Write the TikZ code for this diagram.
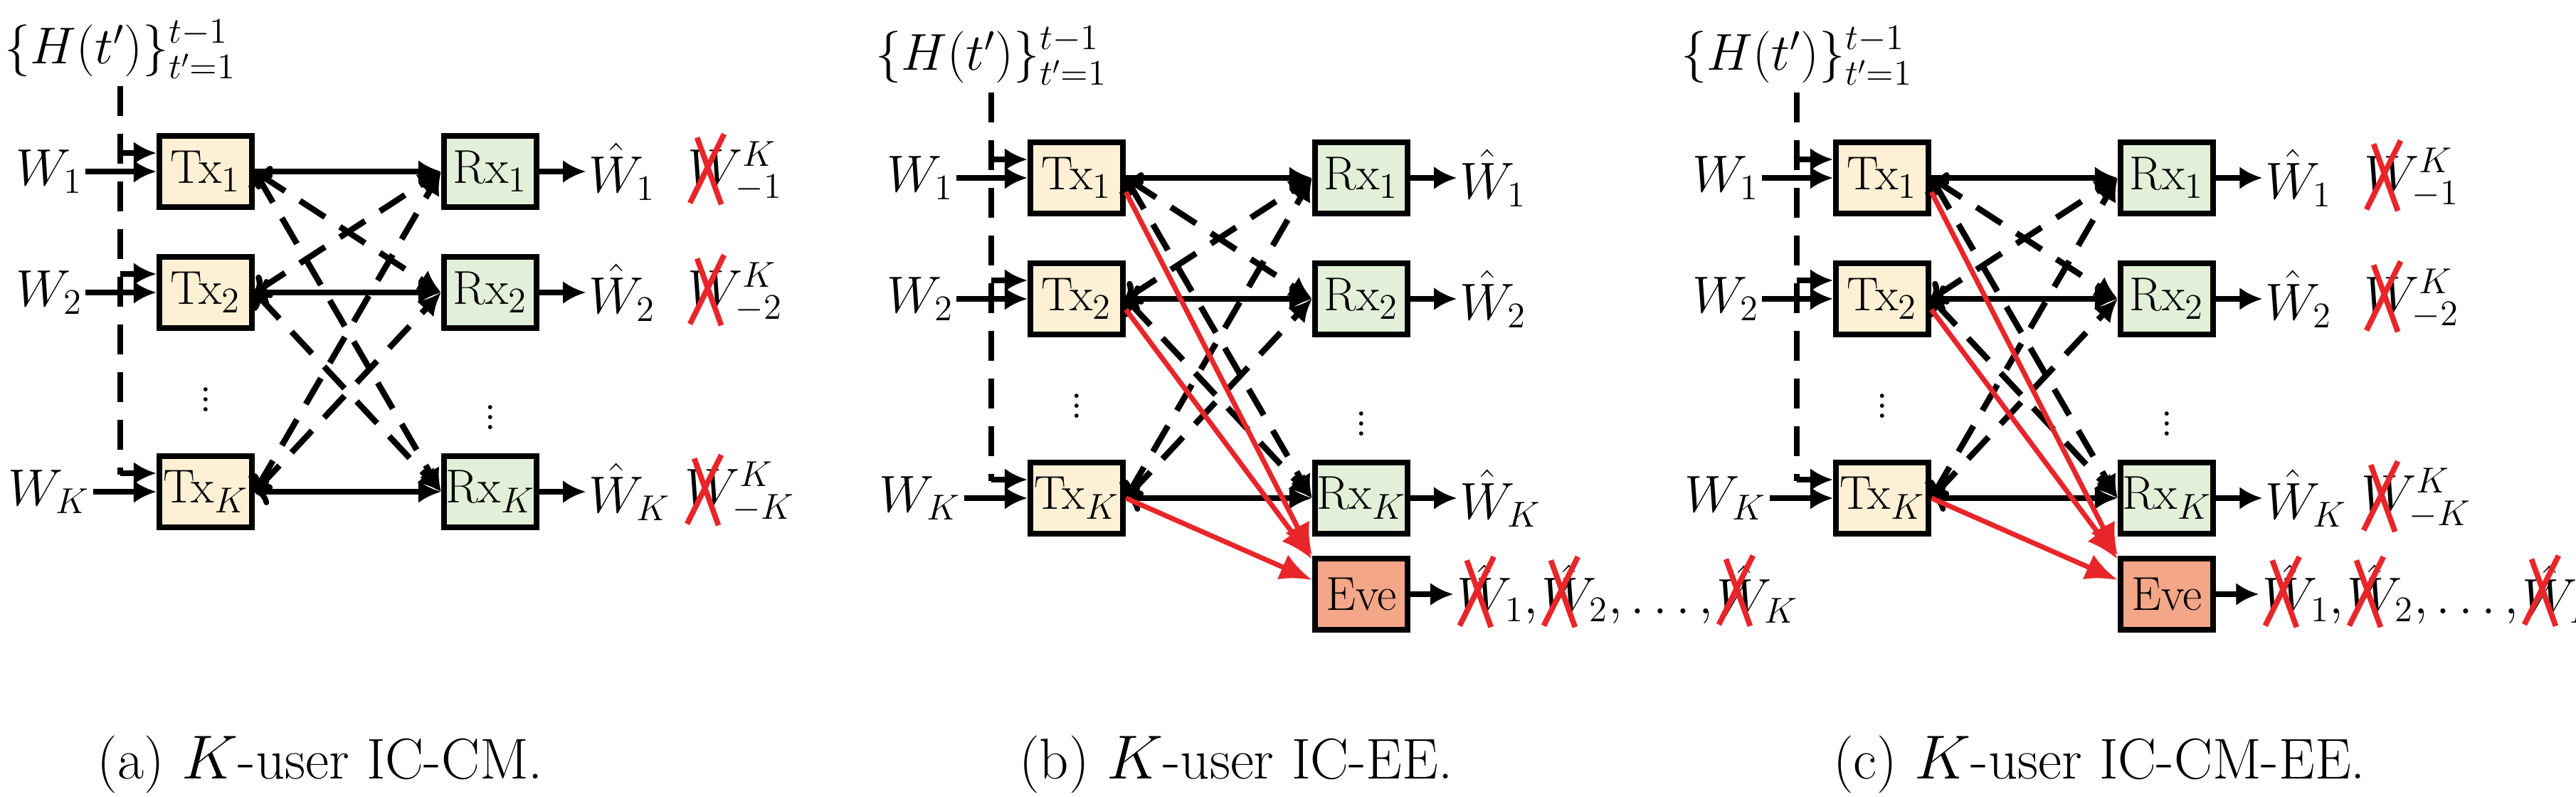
\documentclass[tikz,border=0pt]{standalone}
\usepackage{amsmath}
\usetikzlibrary{arrows.meta,calc}
\definecolor{txfill}{HTML}{FEF0D5}
\definecolor{rxfill}{HTML}{E2F0D9}
\definecolor{evefill}{HTML}{F4A688}
\definecolor{xred}{HTML}{E8262A}
\tikzset{
  box/.style={draw,line width=2.4pt,minimum width=1.3cm,minimum height=1.0cm,inner sep=0pt,font=\fontsize{19}{21}\selectfont},
  tx/.style={box,fill=txfill},
  rx/.style={box,fill=rxfill},
  eve/.style={box,fill=evefill},
  lab/.style={font=\fontsize{20}{22}\selectfont,inner sep=1pt},
  sol/.style={line width=2.2pt,-{Latex[length=0.32cm,width=0.32cm]}},
  dsh/.style={line width=2.4pt,dash pattern=on 0.42cm off 0.25cm,{To[length=0.2cm,width=0.38cm]}-{Latex[length=0.32cm,width=0.32cm]}},
  redarr/.style={line width=2pt,xred,-{Latex[length=0.45cm,width=0.38cm]}},
  xmark/.style={line width=2.2pt,xred}
}
\newcommand\crossW[1]{%
  \draw[xmark] ($(#1.south west)+(0.04,-0.02)$) -- ($(#1.south west)+(0.52,0.95)$);
  \draw[xmark] ($(#1.south west)+(0.14,0.9)$) -- ($(#1.south west)+(0.48,-0.04)$);}
\newcommand\panel[4]{% prefix, xshift, yshift, eve(1/0)
\begin{scope}[xshift=#2cm,yshift=#3cm]
  \node[lab] (#1H) at (0.0,1.72) {$\{H(t')\}_{t'=1}^{t-1}$};
  \node[tx] (#1t1) at (1.2,0) {Tx$_1$};
  \node[tx] (#1t2) at (1.2,-1.7) {Tx$_2$};
  \node[tx] (#1tK) at (1.2,-4.5) {Tx$_K$};
  \node[rx] (#1r1) at (5.2,0) {Rx$_1$};
  \node[rx] (#1r2) at (5.2,-1.7) {Rx$_2$};
  \node[rx] (#1rK) at (5.2,-4.5) {Rx$_K$};
  \node[lab] at (1.2,-3.1) {$\vdots$};
  \node[lab] at (5.2,-3.35) {$\vdots$};
  \node[lab] (#1w1) at (-1.0,0) {$W_1$};
  \node[lab] (#1w2) at (-1.0,-1.7) {$W_2$};
  \node[lab] (#1wK) at (-1.0,-4.5) {$W_K$};
  \coordinate (#1dt) at (0,1.2);
  \coordinate (#1dK) at (0,-4.26);
  \draw[line width=2.4pt,dash pattern=on 0.42cm off 0.25cm] (#1dt) -- (#1dK);
  \foreach \r/\y in {1/0,2/-1.7,K/-4.5}{
    \draw[sol] (0,\y+0.26) -- (#1t\r.west|-0,\y+0.26);
    \draw[sol] (#1w\r.east) -- (#1t\r.west);
    \draw[sol] (#1r\r.east) -- ++(0.65,0) coordinate (#1o\r);
  }
  \draw[sol] (#1t1.east) -- (#1r1.west);
  \draw[sol,{To[length=0.2cm,width=0.38cm]}-{Latex[length=0.32cm,width=0.32cm]}] (#1t2.east) -- (#1r2.west);
  \draw[sol,{To[length=0.2cm,width=0.38cm]}-{Latex[length=0.32cm,width=0.32cm]}] (#1tK.east) -- (#1rK.west);
  \draw[dsh] (#1t1.east) -- (#1r2.west);
  \draw[dsh] (#1t1.east) -- (#1rK.west);
  \draw[dsh] (#1t2.east) -- (#1r1.west);
  \draw[dsh] (#1t2.east) -- (#1rK.west);
  \draw[dsh] (#1tK.east) -- (#1r1.west);
  \draw[dsh] (#1tK.east) -- (#1r2.west);
  \node[lab,anchor=west] (#1h1) at (#1o1) {$\hat W_1$};
  \node[lab,anchor=west] (#1h2) at (#1o2) {$\hat W_2$};
  \node[lab,anchor=west] (#1hK) at (#1oK) {$\hat W_K$};
  \ifnum#4=1
    \node[eve] (#1e) at (5.2,-5.85) {Eve};
    \draw[redarr] ($(#1t1.east)+(0,-0.2)$) -- (#1e.north west);
    \draw[redarr] ($(#1t2.east)+(0,-0.15)$) -- ($(#1e.north west)+(0,-0.05)$);
    \draw[redarr] (#1tK.east) -- ($(#1e.west)+(0,0.2)$);
    \draw[sol] (#1e.east) -- ++(0.6,0) coordinate (#1oe);
    \node[lab,anchor=west,inner sep=0pt] (#1e1) at ($(#1oe)+(0.05,0)$) {$\hat W_1,$};
    \node[lab,anchor=west,inner sep=0pt] (#1e2) at ($(#1e1.east)+(0.03,0)$) {$\hat W_2,\dots,$};
    \node[lab,anchor=west,inner sep=0pt] (#1e3) at ($(#1e2.east)+(0.03,0)$) {$\hat W_K$};
    \crossW{#1e1}\crossW{#1e2}\crossW{#1e3}
  \fi
\end{scope}}
\begin{document}
\begin{tikzpicture}
\useasboundingbox (0,0) rectangle (36.2,-11.19);
\panel{a}{1.69}{-2.41}{0}
\panel{b}{13.93}{-2.50}{1}
\panel{c}{25.25}{-2.50}{1}
% crossed W^K labels in (a) and (c)
\foreach \p in {a,c}{
  \node[lab,anchor=west,inner sep=0pt] (\p x1) at ($(\p h1.east)+(0.4,0)$) {$W^{K}_{-1}$};
  \node[lab,anchor=west,inner sep=0pt] (\p x2) at ($(\p h2.east)+(0.4,0)$) {$W^{K}_{-2}$};
  \node[lab,anchor=west,inner sep=0pt] (\p xK) at ($(\p hK.east)+(0.15,0)$) {$W^{K}_{-K}$};
  \crossW{\p x1}\crossW{\p x2}\crossW{\p xK}
}
\node[lab,font=\fontsize{23}{26}\selectfont] (capa) at (4.5,-10.74) {(a) $K$-user IC-CM.};
\node[lab,font=\fontsize{23}{26}\selectfont] (capb) at (17.37,-10.74) {(b) $K$-user IC-EE.};
\node[lab,font=\fontsize{23}{26}\selectfont] (capc) at (29.5,-10.74) {(c) $K$-user IC-CM-EE.};
\end{tikzpicture}
\end{document}
